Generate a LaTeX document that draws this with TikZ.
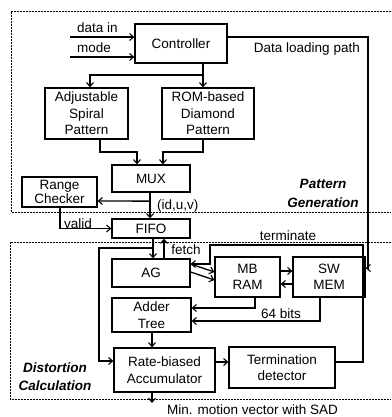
\documentclass[tikz,border=0pt]{standalone}
\usepackage{fontspec}
\setmainfont{Liberation Sans}
\usetikzlibrary{arrows.meta}
\newcommand\dgfont{\fontsize{13.5}{16.5}\selectfont}
\begin{document}
\begin{tikzpicture}[x=1pt,y=-1pt,
  box/.style={draw,line width=1.3pt,inner sep=0pt,align=center,font=\dgfont},
  lbl/.style={inner sep=0pt,font=\dgfont},
  reg/.style={line width=0.6pt,dash pattern=on 2pt off 1pt},
  rlbl/.style={inner sep=0pt,align=center,font=\dgfont\bfseries\itshape},
  wire/.style={line width=1.3pt},
  arr/.style={line width=1.3pt,-{Straight Barb[length=4pt,width=7pt,line width=1.1pt]}}]
\useasboundingbox (0,0) rectangle (391,417);
% regions
\draw[reg] (391,11) -- (11,11) -- (11,212) -- (391,212);
\draw[reg] (391,242) -- (10,242) -- (10,399) -- (391,399);
% nodes
\node[box,minimum width=92pt,minimum height=39pt] (ctrl) at (181,43.5) {Controller};
\node[box,minimum width=83pt,minimum height=51pt] (spiral) at (86.5,113.5) {Adjustable\\Spiral\\Pattern};
\node[box,minimum width=92pt,minimum height=51pt] (diamond) at (208,113.5) {ROM-based\\Diamond\\Pattern};
\node[box,minimum width=78pt,minimum height=27pt] (mux) at (151,178.5) {MUX};
\node[box,minimum width=75pt,minimum height=30pt] (range) at (59.5,192) {Range\\[-3pt]Checker};
\node[box,minimum width=78pt,minimum height=19pt] (fifo) at (151,228.5) {FIFO};
\node[box,minimum width=78pt,minimum height=28pt] (ag) at (151,273) {AG};
\node[box,minimum width=65pt,minimum height=40pt] (mbram) at (247.5,277) {MB\\RAM};
\node[box,minimum width=72pt,minimum height=40pt] (swmem) at (329,277) {SW\\MEM};
\node[box,minimum width=79pt,minimum height=34pt] (adder) at (151.5,315) {Adder\\Tree};
\node[box,minimum width=101pt,minimum height=44pt] (acc) at (164.5,370) {Rate-biased\\Accumulator};
\node[box,minimum width=106pt,minimum height=41pt] (term) at (282,367.5) {Termination\\detector};
% helper coordinates
\coordinate (din) at (70,37);
\coordinate (dmode) at (70,57);
\coordinate (cx) at (203,75);
\coordinate (sx) at (90,75);
\coordinate (j1) at (100,152);
\coordinate (j2) at (203,152);
\coordinate (dl) at (368,268);
\coordinate (vj) at (60,230);
\coordinate (fa) at (153,248);
\coordinate (fl) at (99,248);
\coordinate (fb) at (99,361);
\coordinate (tr) at (363,362);
\coordinate (tt) at (363,245);
\coordinate (tl) at (210,245);
\coordinate (ta) at (210,264);
\coordinate (mb) at (255,308);
\coordinate (sb) at (320,321);
\coordinate (out) at (152,403);
% labels
\node[lbl,anchor=west] (ldin) at (77,28) {data in};
\node[lbl,anchor=west] (lmode) at (77,48) {mode};
\node[lbl,anchor=east] (ldl) at (360,49) {Data loading path};
\node[lbl,anchor=west] (lid) at (157,206) {(id,u,v)};
\node[lbl] (lvalid) at (78,224) {valid};
\node[lbl] (lfetch) at (186,250) {fetch};
\node[lbl] (lterm) at (288,236) {terminate};
\node[lbl] (lbits) at (281,314) {64 bits};
\node[lbl,anchor=west] (lout) at (167,410) {Min. motion vector with SAD};
\node[rlbl] (lpg) at (323,193.5) {Pattern\\[2pt]Generation};
\node[rlbl] (ldc) at (55,376.5) {Distortion\\[1pt]Calculation};
% connectors
\draw[arr] (din) -- (din -| ctrl.west);
\draw[arr] (dmode) -- (dmode -| ctrl.west);
\draw[arr] (ctrl.south -| cx) -- (diamond.north -| cx);
\draw[arr] (cx) -- (sx) -- (spiral.north -| sx);
\draw[arr] (ctrl.east |- din) -| (dl) -- (swmem.east |- dl);
\draw[arr] (spiral.south -| j1) -- (j1) -| ([xshift=-14pt]mux.north);
\draw[arr] (diamond.south -| j2) -- (j2) -| ([xshift=12pt]mux.north);
\draw[arr] ([xshift=-1pt]mux.south) -- ([xshift=-1pt]fifo.north);
\draw[arr] ([xshift=-1pt,yshift=-8.5pt]mux.south) -- ([yshift=-9pt]range.east);
\draw[arr] (range.south -| vj) |- (fifo.west);
\draw[arr] (fifo.south -| fa) -- (ag.north -| fa);
\draw[arr] ([xshift=13pt]ag.north) -- ([xshift=13pt]fifo.south);
\draw[arr] (fa) -- (fl) -- (fb) -- (acc.west |- fb);
\draw[arr] ([yshift=1pt]ag.east) -- ([yshift=-3pt]mbram.west);
\draw[arr] ([yshift=9pt]ag.east) -- ([yshift=5pt]mbram.west);
\draw[arr] ([yshift=-7pt]swmem.west) -- ([yshift=-7pt]mbram.east);
\draw[arr] ([yshift=6pt]mbram.east) -- ([yshift=6pt]swmem.west);
\draw[arr] (term.east |- tr) -- (tr) -- (tt) -- (tl) -- (ta) -- (ag.east |- ta);
\draw[arr] (mbram.south -| mb) |- (adder.east |- mb);
\draw[arr] (swmem.south -| sb) |- (adder.east |- sb);
\draw[arr] (adder.south -| out) -- (acc.north -| out);
\draw[arr] (acc.east |- tr) -- (term.west |- tr);
\draw[arr] (acc.south -| out) -- (out);
\end{tikzpicture}
\end{document}
